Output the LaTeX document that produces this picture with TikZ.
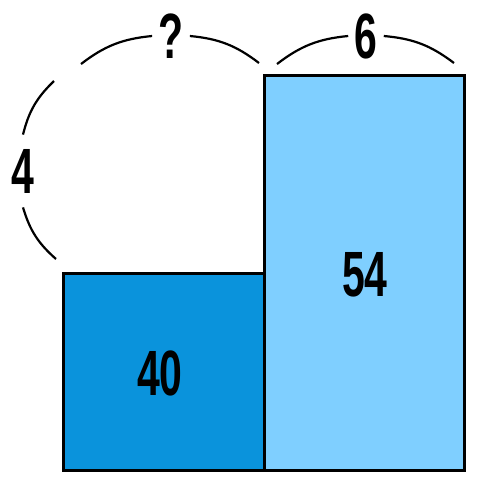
\documentclass[tikz,border=0pt]{standalone}
\usepackage{fontspec}
\setmainfont{Liberation Sans}
\usepackage{graphicx}
\definecolor{darkbox}{HTML}{0A93DC}
\definecolor{lightbox}{HTML}{7FCFFF}
\newcommand{\narrowtxt}[1]{\scalebox{0.64}[1]{\bfseries #1}}
\tikzset{
  numlbl/.style={font=\fontsize{32}{32}\selectfont, inner sep=0pt},
  toplbl/.style={numlbl, inner xsep=3pt, inner ysep=2pt},
  sidelbl/.style={numlbl, inner xsep=1pt, inner ysep=7pt},
  brace/.style={line width=1.1pt}
}
\begin{document}
\begin{tikzpicture}[x=0.5pt,y=-0.5pt]
  \useasboundingbox (0,0) rectangle (489,489);

  \filldraw[fill=darkbox, line width=1.5pt] (64,273) rectangle (265,470);
  \filldraw[fill=lightbox, line width=1.5pt] (265,75) rectangle (465,470);

  \node[numlbl] (forty) at (160,373) {\narrowtxt{40}};
  \node[numlbl] (fiftyfour) at (365,275) {\narrowtxt{54}};

  \node[toplbl] (unknown) at (171,36) {\narrowtxt{?}};
  \node[toplbl] (six) at (366,36) {\narrowtxt{6}};
  \node[sidelbl] (four) at (23,171) {\narrowtxt{4}};

  \coordinate (qa) at (81,64);
  \coordinate (qb) at (259,63);
  \coordinate (sa) at (277,64);
  \coordinate (sb) at (454,63);
  \coordinate (fa) at (54,81);
  \coordinate (fb) at (56,259);

  \draw[brace] (qa) to[bend left=16] (unknown.west);
  \draw[brace] (unknown.east) to[bend left=16] (qb);
  \draw[brace] (sa) to[bend left=16] (six.west);
  \draw[brace] (six.east) to[bend left=16] (sb);
  \draw[brace] (fa) to[bend right=16] (four.north);
  \draw[brace] (four.south) to[bend right=16] (fb);
\end{tikzpicture}
\end{document}
